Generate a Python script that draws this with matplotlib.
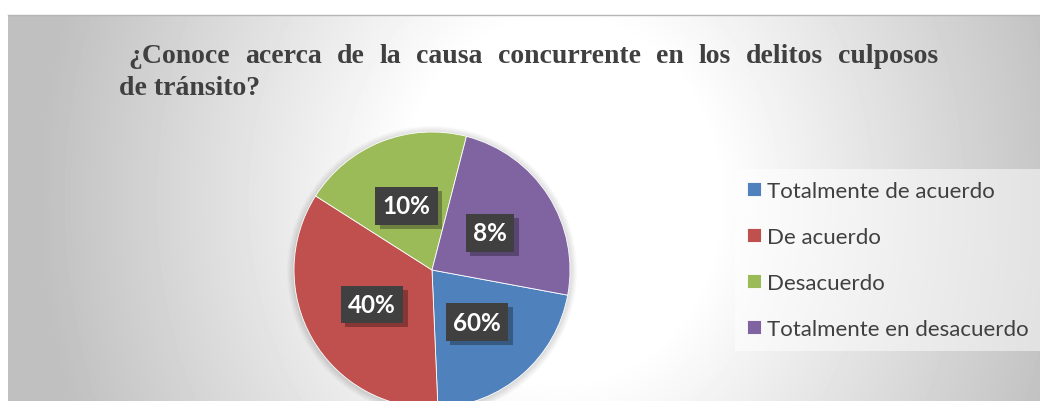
import numpy as np
import matplotlib
matplotlib.use('Agg')
import matplotlib.pyplot as plt
import matplotlib.patheffects as pe
from matplotlib.patches import Circle
from matplotlib.lines import Line2D

# datos del grafico
titulo = '¿Conoce acerca de la causa concurrente en los delitos culposos'
titulo2 = 'de tránsito?'
categorias = ['Totalmente de acuerdo', 'De acuerdo', 'Desacuerdo', 'Totalmente en desacuerdo']
porciones = [21.4, 34.7, 20.0, 23.9]      # tamano de cada sector
etiquetas = ['60%', '40%', '10%', '8%']   # texto de las etiquetas tal cual
colores = ['#4f81bd', '#c0504d', '#9bbb59', '#8064a2']

W, H = 1040, 402
fig = plt.figure(figsize=(W / 100, H / 100), dpi=100)
fig.patch.set_facecolor('white')

# fondo con degradado gris
bg = fig.add_axes([8 / W, 0, (W - 8) / W, (H - 16) / H])
yy, xx = np.mgrid[16:H, 8:W]
t = np.sqrt(((xx - 560) / 520) ** 2 + ((yy - 200) / 600) ** 2)
g = 1 - (63 / 255) * np.clip((t - 0.3) / 0.7, 0, 1)
bg.imshow(g, cmap='gray', vmin=0, vmax=1, aspect='auto', interpolation='bilinear')
bg.axis('off')
fig.add_artist(Line2D([8 / W, 1], [1 - 16 / H, 1 - 16 / H], color='#b5b5b5', lw=1))

# ejes en pixeles
ax = fig.add_axes([0, 0, 1, 1])
ax.patch.set_visible(False)

centro = (432, H - 271)
radio = 138

# sombra suave del pastel
for k in range(1, 8):
    ax.add_patch(Circle((centro[0], centro[1] - 1), radio + k, color='black',
                        alpha=0.02, lw=0, zorder=0))

wedges, _ = ax.pie(porciones, colors=colores, startangle=-10.5, counterclock=False,
                   center=centro, radius=radio,
                   wedgeprops=dict(edgecolor='white', linewidth=0.6, zorder=2))

# etiquetas de datos en cajas oscuras con sombra
for w, lab in zip(wedges, etiquetas):
    ang = np.deg2rad((w.theta1 + w.theta2) / 2)
    x = w.center[0] + 0.5 * w.r * np.cos(ang)
    y = w.center[1] + 0.5 * w.r * np.sin(ang)
    txt = ax.text(x, y, lab, ha='center', va='center', fontsize=17.5, family='Lato',
                  weight='bold', color='white', zorder=4,
                  bbox=dict(boxstyle='square,pad=0.3', fc='#404040', ec='none'))
    txt.get_bbox_patch().set_path_effects(
        [pe.SimplePatchShadow(offset=(3, -3), shadow_rgbFace='black', alpha=0.3), pe.Normal()])

ax.set_xlim(0, W)
ax.set_ylim(0, H)
ax.axis('off')

# titulo justificado
r = fig.canvas.get_renderer()
estilo = dict(fontsize=20, family='Liberation Serif', weight='bold', color='#404040',
              va='baseline')
palabras = titulo.split()
textos = [ax.text(0, H - 63, p, **estilo) for p in palabras]
anchos = [tt.get_window_extent(r).width for tt in textos]
hueco = (938 - 128 - sum(anchos)) / (len(palabras) - 1)
xp = 128
for tt, a in zip(textos, anchos):
    tt.set_x(xp)
    xp += a + hueco
ax.text(119, H - 95, titulo2, **estilo)

# leyenda
ax.legend(wedges, categorias, loc='upper left', bbox_to_anchor=(735 / W, 1 - 170 / H),
          bbox_transform=fig.transFigure, frameon=True, fancybox=False,
          facecolor='white', edgecolor='none', framealpha=0.5,
          prop=dict(family='Lato', size=16), labelcolor='#404040',
          handlelength=0.6, handleheight=0.6, handletextpad=0.3,
          labelspacing=1.16, borderpad=0.55, borderaxespad=0)

fig.savefig('out.png', dpi=100)
